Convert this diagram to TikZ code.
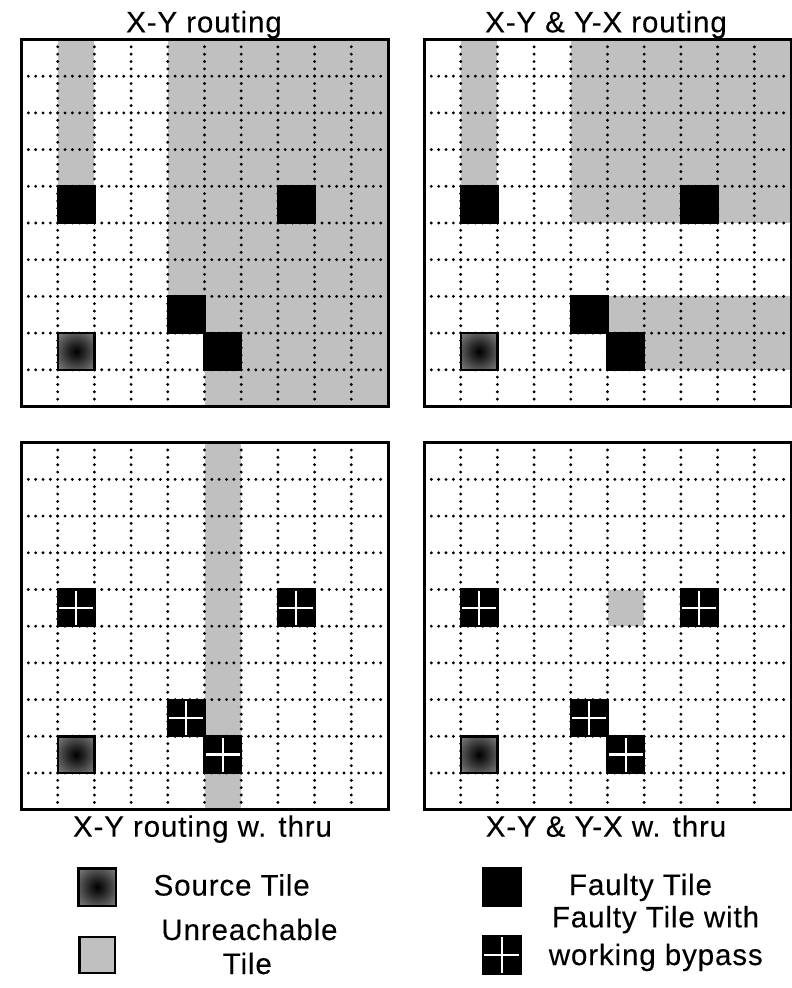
\documentclass[tikz,border=0pt]{standalone}
\usepackage{fontspec}
\setmainfont{Liberation Sans}[LetterSpace=3.0, FakeBold=0.2]
\definecolor{unreach}{HTML}{C0C0C0}
\pgfdeclareradialshading{srcshade}{\pgfpoint{0bp}{0bp}}{color(0bp)=(black); color(8bp)=(black!85); color(22bp)=(black!55); color(35bp)=(black!25); color(50bp)=(white)}
\tikzset{
  lbl/.style={font=\fontsize{29.5}{34}\selectfont, inner sep=0pt, anchor=base},
  griddot/.style={fill=black, draw=none},
  unreachfill/.style={fill=unreach, draw=none},
  faultfill/.style={fill=black, draw=none},
  crossln/.style={white, line width=2.4pt},
  srcborder/.style={draw=black, line width=2.4pt},
  panelborder/.style={draw=black, line width=3pt},
  legendbox/.style={draw=black, line width=2.4pt},
}
\newcommand\faultcell[2]{\fill[faultfill] (#1-0.03,#2-0.03) rectangle (#1+1.03,#2+1.03);}
\newcommand\bypasscell[2]{\faultcell{#1}{#2}\draw[crossln] (#1+0.04,#2+0.5) -- (#1+0.96,#2+0.5) (#1+0.5,#2+0.04) -- (#1+0.5,#2+0.96);}
\newcommand\srccell[2]{\begin{scope}\clip (#1,#2) rectangle (#1+1,#2+1); \shade[shading=srcshade] (#1+0.5,#2+0.5) circle (0.7071);\end{scope}\draw[srcborder] (#1,#2) rectangle (#1+1,#2+1);}
\newcommand\gridlines{\foreach \i in {1,...,9}{\fill[griddot] foreach \k in {1,...,49} {(\i,\k/5) circle (1.6pt) (\k/5,\i) circle (1.6pt)};}}
\begin{document}
\begin{tikzpicture}[x=1pt,y=-1pt]
\useasboundingbox (0,0) rectangle (792,988);
\fill[white] (0,0) rectangle (792,988);

% ---------- Top-left: X-Y routing ----------
\begin{scope}[shift={(21,39.5)}, x=36.7pt, y=-36.7pt]
  \fill[unreachfill] (1,0) rectangle (2,4);
  \fill[unreachfill] (4,0) rectangle (5,7);
  \fill[unreachfill] (5,0) rectangle (6,10);
  \fill[unreachfill] (6,0) rectangle (10,10);
  \gridlines
  \faultcell{1}{4} \faultcell{7}{4} \faultcell{4}{7} \faultcell{5}{8}
  \srccell{1}{8}
  \draw[panelborder] (0,0) rectangle (10,10);
\end{scope}

% ---------- Top-right: X-Y & Y-X routing ----------
\begin{scope}[shift={(424,39.5)}, x=36.7pt, y=-36.7pt]
  \fill[unreachfill] (1,0) rectangle (2,4);
  \fill[unreachfill] (4,0) rectangle (10,5);
  \fill[unreachfill] (5,7) rectangle (10,8);
  \fill[unreachfill] (6,8) rectangle (10,9);
  \gridlines
  \faultcell{1}{4} \faultcell{7}{4} \faultcell{4}{7} \faultcell{5}{8}
  \srccell{1}{8}
  \draw[panelborder] (0,0) rectangle (10,10);
\end{scope}

% ---------- Bottom-left: X-Y routing w. thru ----------
\begin{scope}[shift={(21,442.7)}, x=36.7pt, y=-36.7pt]
  \fill[unreachfill] (5,0) rectangle (6,10);
  \gridlines
  \bypasscell{1}{4} \bypasscell{7}{4} \bypasscell{4}{7} \bypasscell{5}{8}
  \srccell{1}{8}
  \draw[panelborder] (0,0) rectangle (10,10);
\end{scope}

% ---------- Bottom-right: X-Y & Y-X w. thru ----------
\begin{scope}[shift={(424,442.7)}, x=36.7pt, y=-36.7pt]
  \fill[unreachfill] (5,4) rectangle (6,5);
  \gridlines
  \bypasscell{1}{4} \bypasscell{7}{4} \bypasscell{4}{7} \bypasscell{5}{8}
  \srccell{1}{8}
  \draw[panelborder] (0,0) rectangle (10,10);
\end{scope}

% ---------- Titles ----------
\node[lbl] (t1) at (204,32.3) {X-Y routing};
\node[lbl] (t2) at (606,32.3) {X-Y \& Y-X routing};
\node[lbl] (t3) at (202.5,836.7) {X-Y routing w. thru};
\node[lbl] (t4) at (606,836.7) {X-Y \& Y-X w. thru};

% ---------- Legend ----------
\begin{scope}[shift={(78.3,868.3)}, x=37.7pt, y=-37.7pt]
  \srccell{0}{0}
\end{scope}
\draw[legendbox, fill=unreach] (79.3,937) rectangle (115,973);
\fill[black] (481.7,867.3) rectangle (521.7,906.7);
\begin{scope}[shift={(481.7,935)}, x=40pt, y=-40pt]
  \fill[black] (0,0) rectangle (1,1);
  \draw[crossln] (0.06,0.5) -- (0.94,0.5) (0.5,0.06) -- (0.5,0.94);
\end{scope}

\node[lbl] (l1) at (231.7,895.5) {Source Tile};
\node[lbl] (l2a) at (249.5,940) {Unreachable};
\node[lbl] (l2b) at (247.3,974) {Tile};
\node[lbl] (l3) at (640.5,895) {Faulty Tile};
\node[lbl] (l4a) at (655.5,927.3) {Faulty Tile with};
\node[lbl] (l4b) at (655.8,965) {working bypass};
\end{tikzpicture}
\end{document}
